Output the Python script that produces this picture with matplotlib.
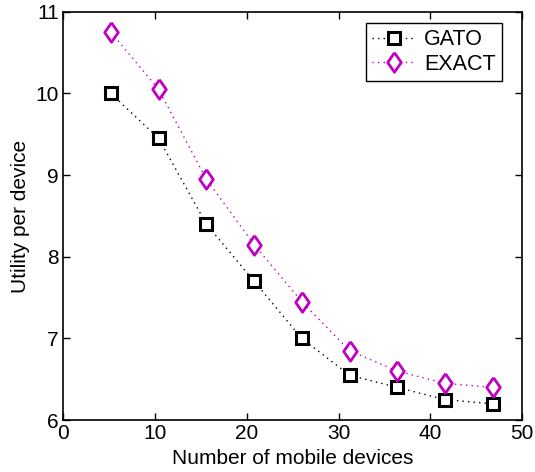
import matplotlib.pyplot as plt

plt.rcParams['font.family'] = ['Liberation Sans', 'DejaVu Sans']

# Utility per device vs number of mobile devices
n_devices = [5.2, 10.4, 15.6, 20.8, 26.0, 31.2, 36.4, 41.6, 46.8]
gato = [10.0, 9.45, 8.4, 7.7, 7.0, 6.55, 6.4, 6.25, 6.2]
exact = [10.75, 10.05, 8.95, 8.15, 7.45, 6.85, 6.6, 6.45, 6.4]

# MATLAB-like diamond, a bit taller than wide
diamond = [(0, 1), (0.7, 0), (0, -1), (-0.7, 0), (0, 1)]
dotted = (0, (1, 3))

fig = plt.figure(figsize=(5.35, 4.72), dpi=100)
ax = fig.add_axes([0.118, 0.11, 0.858, 0.865])

ax.plot(n_devices, gato, color='black', linestyle=dotted, linewidth=1.0,
        marker='s', markersize=8, markeredgewidth=2.2,
        markerfacecolor='white', markeredgecolor='black', label='GATO')
ax.plot(n_devices, exact, color='#c000c0', linestyle=dotted, linewidth=1.0,
        marker=diamond, markersize=14, markeredgewidth=2.0,
        markerfacecolor='white', markeredgecolor='#c000c0', label='EXACT')

ax.set_xlim(0, 50)
ax.set_ylim(6, 11)
ax.set_xticks([0, 10, 20, 30, 40, 50])
ax.set_yticks([6, 7, 8, 9, 10, 11])
ax.tick_params(direction='in', top=True, right=True, length=5,
               labelsize=15, width=1, pad=3)
for s in ax.spines.values():
    s.set_linewidth(1.2)

ax.set_xlabel('Number of mobile devices', fontsize=15, labelpad=4)
ax.set_ylabel('Utility per device', fontsize=15, labelpad=4)

leg = ax.legend(loc='upper right', bbox_to_anchor=(0.956, 0.973),
                fontsize=15.5, fancybox=False,
                framealpha=1, edgecolor='black', handlelength=2.0,
                handletextpad=0.4, borderpad=0.3,
                borderaxespad=0, labelspacing=0.15)
leg.get_frame().set_linewidth(1.0)

fig.savefig('out.png', dpi=100)
